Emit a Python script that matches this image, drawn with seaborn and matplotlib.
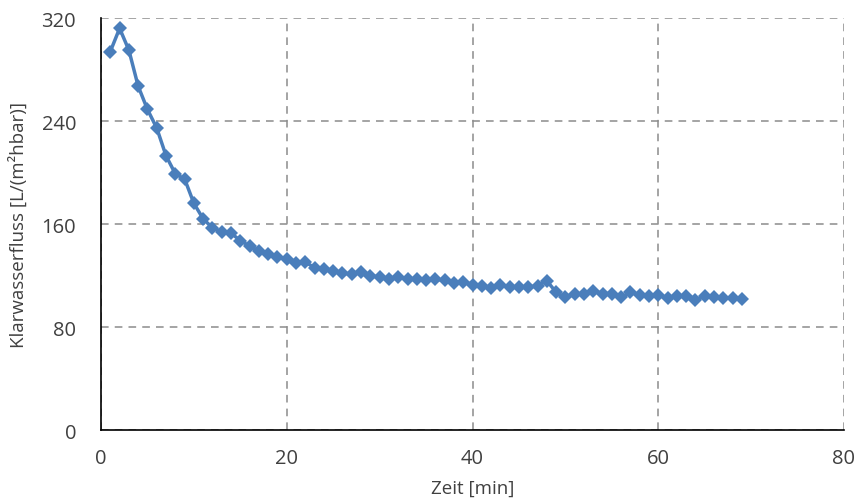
import matplotlib
matplotlib.use("Agg")
import matplotlib.pyplot as plt
import seaborn as sns
import pandas as pd

zeit = list(range(1, 70))
fluss = [294, 312, 295, 267, 249, 234.5, 213, 199, 195, 176,
         164, 157, 154, 153, 147, 143, 139, 137, 134, 133,
         130, 130.5, 126, 125, 123.5, 122, 121, 122.7, 119.6, 119,
         117, 119, 117, 117, 116.5, 117, 116.5, 114, 115, 113,
         112, 110, 112.6, 111, 111, 111, 112, 116, 107, 103,
         105.6, 105.6, 108, 106, 106, 103, 107, 105, 104, 105,
         102.5, 104, 104, 101, 104, 103, 102.5, 102.5, 102]
x_ticks = [0, 20, 40, 60, 80]
y_ticks = [0, 80, 160, 240, 320]
x_label = "Zeit [min]"
y_label = "Klarwasserfluss [L/(m²hbar)]"

df = pd.DataFrame({"Zeit": zeit, "Fluss": fluss})

sns.set_style("white")
plt.rcParams["font.family"] = ["Open Sans", "DejaVu Sans"]

fig = plt.figure(figsize=(8.57, 5.02), dpi=100)
ax = fig.add_axes([0.1179, 0.1414, 0.8669, 0.8207])

sns.lineplot(data=df, x="Zeit", y="Fluss", ax=ax, color="#4a7ebb",
             linewidth=2.5, marker="D", markersize=7, markeredgewidth=0)

ax.set_xlim(0, 80)
ax.set_ylim(0, 320)
ax.set_xticks(x_ticks)
ax.set_yticks(y_ticks)
ax.grid(True, color="#8c8c8c", linestyle=(0, (5, 4)), linewidth=1.1)
ax.set_axisbelow(True)
for s in ["top", "right"]:
    ax.spines[s].set_visible(False)
for s in ["left", "bottom"]:
    ax.spines[s].set_color("#000000")
    ax.spines[s].set_linewidth(1.2)
ax.tick_params(axis="both", direction="inout", length=8, width=1.0,
               colors="#000000", labelcolor="#404040", labelsize=14.5)
ax.tick_params(axis="x", pad=9)
ax.tick_params(axis="y", pad=14)
ax.set_xlabel(x_label, fontsize=13.5, color="#404040", labelpad=8)
ax.set_ylabel(y_label, fontsize=13.5, color="#404040", labelpad=10)

fig.savefig("out.png", dpi=100)
